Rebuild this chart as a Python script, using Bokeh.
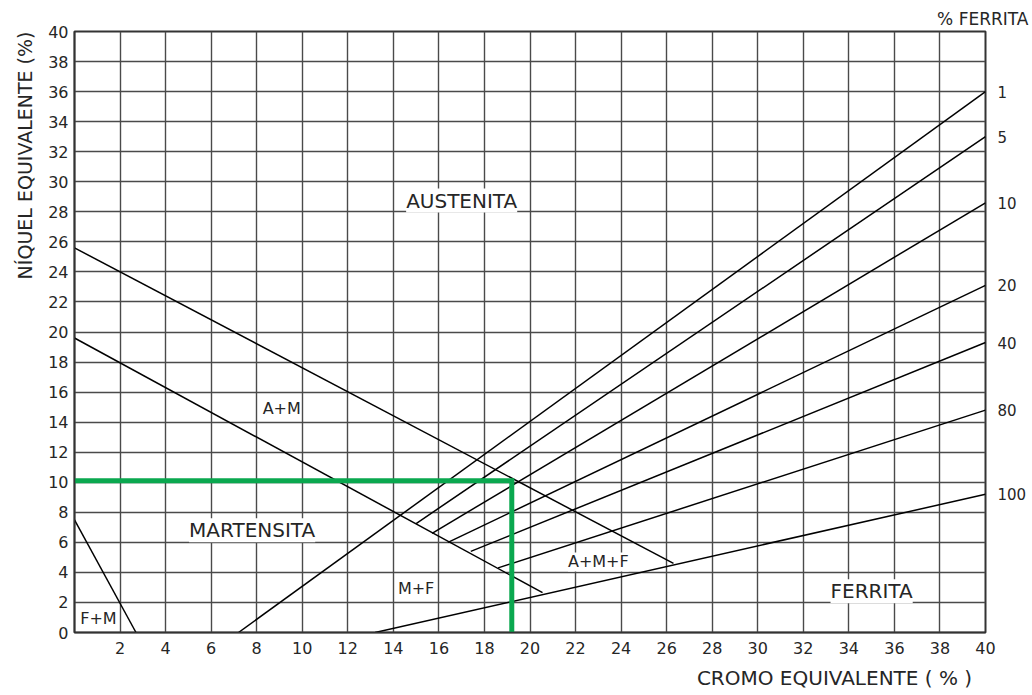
from bokeh.plotting import figure
from bokeh.models import (ColumnDataSource, LabelSet, LinearAxis, FixedTicker,
                          Range1d, Title)
from bokeh.core.properties import value
from bokeh.embed import file_html
from bokeh.resources import INLINE

# Schaeffler diagram: chromium equivalent vs nickel equivalent

# Axis ticks
x_ticks = list(range(2, 41, 2))
y_ticks = list(range(0, 41, 2))
grid_ticks = list(range(0, 41, 2))

# Iso-ferrite lines: start point and value at Cr_eq = 40
ferrite_pct = ["1", "5", "10", "20", "40", "80", "100"]
ferrite_x0 = [7.2, 15.0, 15.7, 16.4, 17.4, 18.6, 13.2]
ferrite_y0 = [0.0, 7.25, 6.6, 6.0, 5.4, 4.3, 0.0]
ferrite_x1 = [40.0, 40.0, 40.0, 40.0, 40.0, 40.0, 40.0]
ferrite_y1 = [36.0, 33.0, 28.6, 23.1, 19.3, 14.8, 9.2]

# Phase boundaries
am_upper_x = [0.0, 26.3]
am_upper_y = [25.6, 4.6]
ma_lower_x = [0.0, 20.55]
ma_lower_y = [19.6, 2.65]
fm_x = [0.0, 2.7]
fm_y = [7.5, 0.0]

# Example weld composition
cr_eq = 19.2
ni_eq = 10.1

# Phase field names
big_regions = ["AUSTENITA", "MARTENSITA", "FERRITA"]
big_region_x = [17.0, 7.8, 35.0]
big_region_y = [28.75, 6.8, 2.75]
small_regions = ["A+M", "M+F", "A+M+F", "F+M"]
small_region_x = [9.1, 15.0, 23.0, 1.05]
small_region_y = [14.9, 2.95, 4.7, 0.9]

FONT = "DejaVu Sans"
INK = "#262626"

p = figure(frame_width=911, frame_height=601,
           min_border_left=74, min_border_right=47,
           min_border_top=31, min_border_bottom=63,
           x_range=Range1d(0, 40), y_range=Range1d(0, 40),
           output_backend="svg", toolbar_location=None,
           background_fill_color="white", border_fill_color="white")

# grid
p.xgrid.ticker = FixedTicker(ticks=grid_ticks)
p.ygrid.ticker = FixedTicker(ticks=grid_ticks)
for g in (p.xgrid, p.ygrid):
    g.grid_line_color = "#4a4a4a"
    g.grid_line_width = 1.4
    g.grid_line_alpha = 1.0

p.outline_line_color = "#333333"
p.outline_line_width = 2

# axes
p.xaxis.ticker = FixedTicker(ticks=x_ticks)
p.yaxis.ticker = FixedTicker(ticks=y_ticks)
for ax in (p.xaxis, p.yaxis):
    ax.major_tick_out = 0
    ax.major_tick_in = 0
    ax.minor_tick_out = 0
    ax.minor_tick_in = 0
    ax.axis_line_color = "#333333"
    ax.axis_line_width = 1.5
    ax.major_label_text_font = FONT
    ax.major_label_text_font_size = "16px"
    ax.major_label_text_color = INK
p.xaxis.major_label_standoff = 9
p.yaxis.major_label_standoff = 6

# ferrite percentage scale at the right edge, one tick per iso-ferrite line end
ferrite_axis = LinearAxis(
    ticker=FixedTicker(ticks=ferrite_y1),
    major_label_overrides={y: t for y, t in zip(ferrite_y1, ferrite_pct)},
    axis_line_color=None,
    major_tick_out=0, major_tick_in=0, minor_tick_out=0, minor_tick_in=0,
    major_label_standoff=12,
    major_label_text_font=FONT, major_label_text_font_size="15px",
    major_label_text_color=INK)
p.add_layout(ferrite_axis, "right")

# axis titles
p.add_layout(Title(text="NÍQUEL EQUIVALENTE (%)", align="right",
                   text_font=FONT, text_font_size="19px",
                   text_font_style="normal", text_color=INK,
                   standoff=19), "left")
p.add_layout(Title(text="CROMO EQUIVALENTE  ( % )", align="right", offset=7,
                   text_font=FONT, text_font_size="20px",
                   text_font_style="normal", text_color=INK,
                   standoff=14), "below")
p.add_layout(Title(text="% FERRITA", align="right", offset=-43,
                   text_font=FONT, text_font_size="17px",
                   text_font_style="normal", text_color=INK,
                   standoff=6), "above")

# boundaries
p.line(am_upper_x, am_upper_y, line_color="black", line_width=1.5)
p.line(ma_lower_x, ma_lower_y, line_color="black", line_width=1.5)
p.line(fm_x, fm_y, line_color="black", line_width=1.5)

fsrc = ColumnDataSource(dict(x0=ferrite_x0, y0=ferrite_y0,
                             x1=ferrite_x1, y1=ferrite_y1, pct=ferrite_pct))
p.segment("x0", "y0", "x1", "y1", source=fsrc,
          line_color="black", line_width=1.5)

# example composition lines
p.line([0, cr_eq, cr_eq], [ni_eq, ni_eq, 0],
       line_color="#0aa84f", line_width=5, line_join="miter")

# phase field names
bsrc = ColumnDataSource(dict(x=big_region_x, y=big_region_y, t=big_regions))
p.add_layout(LabelSet(x="x", y="y", text="t", source=bsrc,
                      text_font=value(FONT), text_font_size=value("20px"),
                      text_color=INK, text_align="center",
                      text_baseline="middle",
                      background_fill_color="white"))
ssrc = ColumnDataSource(dict(x=small_region_x, y=small_region_y, t=small_regions))
p.add_layout(LabelSet(x="x", y="y", text="t", source=ssrc,
                      text_font=value(FONT), text_font_size=value("16px"),
                      text_color=INK, text_align="center",
                      text_baseline="middle",
                      background_fill_color="white"))

open("out.html", "w").write(file_html(p, INLINE))
